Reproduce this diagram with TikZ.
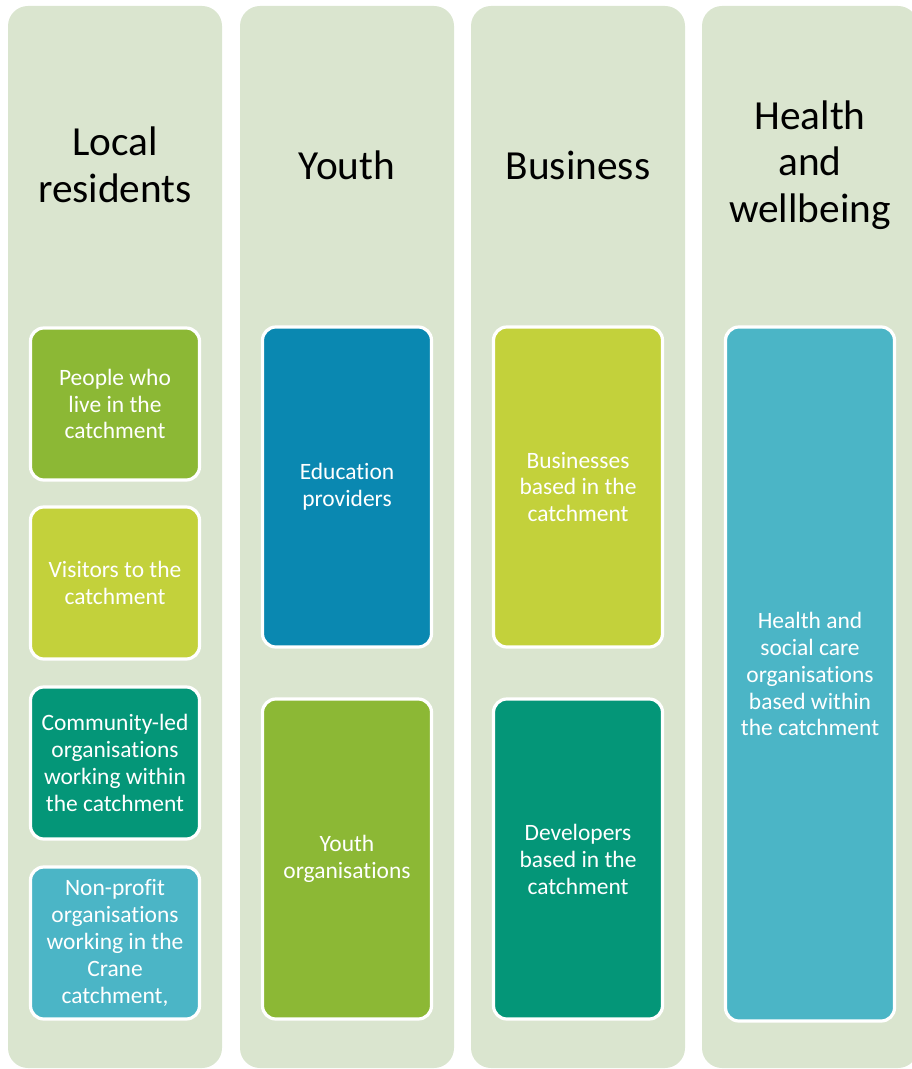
\documentclass[tikz,border=0pt]{standalone}
\usepackage{fontspec}
\setmainfont{Carlito}[Ligatures=NoCommon]
\definecolor{colbg}{HTML}{DAE5CF}
\definecolor{cgrass}{HTML}{8CB835}
\definecolor{clime}{HTML}{C3D13B}
\definecolor{cteal}{HTML}{049678}
\definecolor{cblue}{HTML}{0A88B1}
\definecolor{ccyan}{HTML}{4BB5C6}
\begin{document}
\begin{tikzpicture}[x=0.75pt,y=-0.75pt,
  column/.style={fill=colbg,rounded corners=15pt},
  head/.style={align=center,font=\fontsize{31}{35}\selectfont},
  card/.style={draw=white,line width=2.4pt,rounded corners=10pt,minimum width=126.75pt,
    inner sep=2pt,text=white,align=center,font=\fontsize{17.6}{20.2}\selectfont}]
\def \smallh{114pt};
\def \midh{240pt};
\def \tallh{520.5pt};
\useasboundingbox (0,0) rectangle (912,1069);
\clip (0,0) rectangle (912,1069);
\fill[column] (8,6) rectangle (222,1068);
\fill[column] (240,6) rectangle (454,1068);
\fill[column] (471,6) rectangle (685,1068);
\fill[column] (702,6) rectangle (918,1068);
\node[head] (local) at (115,165) {Local\\residents};
\node[head] (youth) at (347,165) {Youth};
\node[head] (business) at (578,165) {Business};
\node[head] (health) at (810,165) {Health\\and\\wellbeing};
\node[card,fill=cgrass,minimum height=\smallh] (people) at (115,404) {People who\\live in the\\catchment};
\node[card,fill=clime,minimum height=\smallh] (visitors) at (115,583) {Visitors to the\\catchment};
\node[card,fill=cteal,minimum height=\smallh] (community) at (115,763) {Community-led\\organisations\\working within\\the catchment};
\node[card,fill=ccyan,minimum height=\smallh] (nonprofit) at (115,943) {Non-profit\\organisations\\working in the\\Crane\\catchment,};
\node[card,fill=cblue,minimum height=\midh] (education) at (347,487) {Education\\providers};
\node[card,fill=cgrass,minimum height=\midh] (youthorgs) at (347,859) {Youth\\organisations};
\node[card,fill=clime,minimum height=\midh] (businesses) at (578,487) {Businesses\\based in the\\catchment};
\node[card,fill=cteal,minimum height=\midh] (developers) at (578,859) {Developers\\based in the\\catchment};
\node[card,fill=ccyan,minimum height=\tallh] (healthcare) at (810,674) {Health and\\social care\\organisations\\based within\\the catchment};
\end{tikzpicture}
\end{document}
